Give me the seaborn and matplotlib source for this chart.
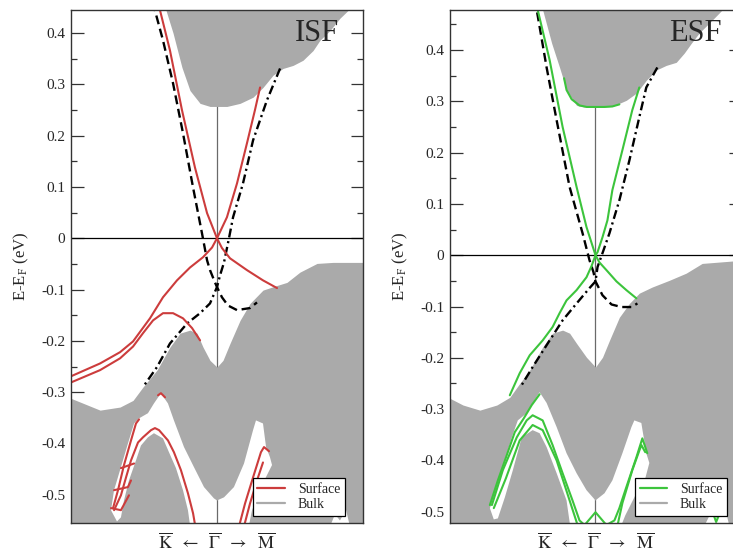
import matplotlib
matplotlib.use("Agg")
import matplotlib.pyplot as plt
from matplotlib.lines import Line2D
from matplotlib.ticker import MultipleLocator, FuncFormatter
import seaborn as sns

# ---------------------------------------------------------------------------
# Slab band structure along K <- Gamma -> M (k = 0 at Gamma, +-1 at K / M)
# Energies in eV relative to E_F.
# ---------------------------------------------------------------------------

# ---------------- ISF ----------------
# bulk projection: lower edge of the conduction continuum
isf_cond_k = [-0.36, -0.349, -0.301, -0.240, -0.185, -0.116, -0.048, 0.068, 0.158, 0.247,
              0.315, 0.384, 0.452, 0.521, 0.589, 0.658, 0.705, 0.774, 0.842, 0.897, 0.91]
isf_cond_e = [0.47, 0.444, 0.400, 0.333, 0.288, 0.263, 0.257, 0.257, 0.263, 0.275,
              0.294, 0.318, 0.331, 0.337, 0.347, 0.366, 0.386, 0.405, 0.429, 0.444, 0.47]
# bulk projection: upper edge of the valence continuum
isf_val_k = [-1.0, -0.801, -0.664, -0.575, -0.507, -0.411, -0.322, -0.253, -0.185, -0.137,
             -0.096, -0.048, 0.0, 0.041, 0.089, 0.158, 0.226, 0.315, 0.411, 0.479,
             0.568, 0.685, 0.795, 1.0]
isf_val_e = [-0.312, -0.335, -0.329, -0.316, -0.290, -0.257, -0.212, -0.185, -0.179, -0.185,
             -0.212, -0.238, -0.251, -0.238, -0.205, -0.160, -0.127, -0.101, -0.092, -0.086,
             -0.066, -0.049, -0.047, -0.047]
# projected gap inside the valence continuum
isf_gap_k = [-0.726, -0.705, -0.658, -0.610, -0.568, -0.534, -0.473, -0.432, -0.384, -0.336,
             -0.295, -0.226, -0.158, -0.089, -0.021, 0.0, 0.048, 0.116, 0.185, 0.247,
             0.267, 0.315, 0.336, 0.363, 0.377, 0.308, 0.240, 0.205, -0.185, -0.185,
             -0.199, -0.233, -0.281, -0.329, -0.370, -0.432, -0.473, -0.521, -0.555, -0.603,
             -0.637, -0.658, -0.685]
isf_gap_e = [-0.530, -0.491, -0.446, -0.400, -0.361, -0.351, -0.341, -0.322, -0.302, -0.322,
             -0.355, -0.407, -0.446, -0.485, -0.507, -0.511, -0.505, -0.485, -0.439, -0.374,
             -0.355, -0.361, -0.407, -0.427, -0.442, -0.481, -0.530, -0.579, -0.579, -0.559,
             -0.530, -0.491, -0.448, -0.417, -0.390, -0.380, -0.388, -0.404, -0.433, -0.472,
             -0.511, -0.544, -0.552]
# small pocket near M
isf_pocket_k = [0.774, 0.808, 0.842, 0.884, 0.911]
isf_pocket_e = [-0.562, -0.538, -0.550, -0.530, -0.562]

# surface states
isf_s1_k = [-0.40, -0.390, -0.322, -0.240, -0.151, -0.068, 0.0, 0.034, 0.089, 0.205, 0.315, 0.411]
isf_s1_e = [0.46, 0.444, 0.366, 0.250, 0.138, 0.049, 0.0, -0.019, -0.039, -0.062, -0.082, -0.097]
isf_s2_k = [0.295, 0.260, 0.205, 0.137, 0.068, 0.0, -0.034, -0.096, -0.185, -0.274,
            -0.370, -0.459, -0.575, -0.664, -0.801, -1.0]
isf_s2_e = [0.294, 0.250, 0.185, 0.107, 0.041, 0.0, -0.018, -0.037, -0.057, -0.082,
            -0.115, -0.156, -0.201, -0.222, -0.244, -0.269]
isf_s3_k = [-1.0, -0.801, -0.664, -0.575, -0.507, -0.438, -0.370, -0.301, -0.233, -0.171, -0.116]
isf_s3_e = [-0.281, -0.257, -0.234, -0.211, -0.185, -0.160, -0.146, -0.146, -0.156, -0.175, -0.199]
isf_s4_k = [-0.705, -0.658, -0.623, -0.589, -0.541, -0.507, -0.452, -0.425, -0.397, -0.336,
            -0.295, -0.247, -0.199, -0.164, -0.144]
isf_s4_e = [-0.530, -0.501, -0.466, -0.433, -0.398, -0.388, -0.374, -0.370, -0.374, -0.394,
            -0.417, -0.452, -0.497, -0.536, -0.569]
isf_s5_k = [-0.712, -0.678, -0.637, -0.589, -0.555, -0.534]
isf_s5_e = [-0.526, -0.491, -0.442, -0.394, -0.361, -0.353]
isf_s6_k = [-0.658, -0.568]
isf_s6_e = [-0.448, -0.439]
isf_s7_k = [-0.705, -0.610, -0.589]
isf_s7_e = [-0.491, -0.485, -0.472]
isf_s8_k = [-0.726, -0.658, -0.603]
isf_s8_e = [-0.526, -0.530, -0.501]
isf_s9_k = [-0.404, -0.384, -0.356]
isf_s9_e = [-0.306, -0.302, -0.310]
isf_s10_k = [0.144, 0.192, 0.247, 0.301, 0.322, 0.356]
isf_s10_e = [-0.569, -0.517, -0.466, -0.417, -0.407, -0.415]
isf_s11_k = [0.178, 0.226, 0.274, 0.315]
isf_s11_e = [-0.569, -0.517, -0.472, -0.437]

# bulk-like reference bands (dashed / dash-dotted)
isf_d1_k = [-0.44, -0.425, -0.370, -0.301, -0.233, -0.164, -0.103, -0.068, -0.048, -0.014,
            0.0, 0.034, 0.075, 0.137, 0.226, 0.274]
isf_d1_e = [0.46, 0.444, 0.386, 0.302, 0.205, 0.099, 0.010, -0.043, -0.062, -0.086,
            -0.095, -0.115, -0.131, -0.140, -0.136, -0.125]
isf_d2_k = [0.432, 0.342, 0.247, 0.178, 0.110, 0.082, 0.048, 0.021, 0.0, -0.048,
            -0.116, -0.205, -0.322, -0.411, -0.507]
isf_d2_e = [0.331, 0.269, 0.191, 0.107, 0.041, 0.0, -0.047, -0.072, -0.095, -0.127,
            -0.146, -0.166, -0.205, -0.251, -0.290]

# ---------------- ESF ----------------
esf_cond_k = [-0.375, -0.363, -0.301, -0.247, -0.199, -0.130, -0.08, 0.0, 0.06, 0.116,
              0.212, 0.281, 0.349, 0.418, 0.486, 0.555, 0.610, 0.658, 0.712, 0.801, 0.870, 0.885]
esf_cond_e = [0.50, 0.478, 0.413, 0.366, 0.322, 0.292, 0.289, 0.289, 0.289, 0.290,
              0.302, 0.316, 0.341, 0.361, 0.370, 0.376, 0.394, 0.413, 0.433, 0.458, 0.478, 0.50]
esf_val_k = [-1.0, -0.911, -0.795, -0.678, -0.589, -0.521, -0.452, -0.363, -0.295, -0.226,
             -0.178, -0.130, -0.062, 0.0, 0.048, 0.096, 0.164, 0.233, 0.301, 0.390,
             0.507, 0.623, 0.733, 1.0]
esf_val_e = [-0.279, -0.292, -0.302, -0.292, -0.277, -0.250, -0.224, -0.179, -0.152, -0.146,
             -0.152, -0.172, -0.199, -0.218, -0.199, -0.166, -0.121, -0.094, -0.074, -0.062,
             -0.049, -0.035, -0.016, -0.010]
esf_gap_k = [-0.726, -0.678, -0.637, -0.575, -0.534, -0.473, -0.432, -0.384, -0.336, -0.267,
             -0.199, -0.130, -0.062, 0.0, 0.062, 0.116, 0.185, 0.247, 0.267, 0.315,
             0.349, 0.370, 0.342, 0.274, 0.205, 0.164, 0.164, -0.158, -0.178, -0.199,
             -0.267, -0.336, -0.384, -0.432, -0.507, -0.568, -0.623, -0.671, -0.699]
esf_gap_e = [-0.493, -0.458, -0.413, -0.355, -0.322, -0.308, -0.288, -0.267, -0.288, -0.335,
             -0.386, -0.425, -0.458, -0.478, -0.464, -0.439, -0.386, -0.335, -0.322, -0.327,
             -0.386, -0.405, -0.435, -0.468, -0.507, -0.536, -0.56, -0.56, -0.52, -0.478,
             -0.425, -0.374, -0.347, -0.341, -0.355, -0.419, -0.472, -0.513, -0.515]
esf_pocket_k = [0.753, 0.795, 0.836, 0.890, 0.918]
esf_pocket_e = [-0.525, -0.501, -0.513, -0.493, -0.525]

esf_s1_k = [-0.41, -0.397, -0.315, -0.226, -0.130, -0.062, 0.0, 0.027, 0.075, 0.144, 0.212, 0.281]
esf_s1_e = [0.50, 0.478, 0.380, 0.250, 0.133, 0.055, 0.0, -0.014, -0.029, -0.051, -0.068, -0.084]
esf_s2_k = [0.301, 0.253, 0.185, 0.116, 0.082, 0.048, 0.014, 0.0, -0.027, -0.062,
            -0.130, -0.199, -0.247, -0.295, -0.363, -0.452, -0.521, -0.589]
esf_s2_e = [0.327, 0.283, 0.205, 0.127, 0.068, 0.035, 0.006, 0.0, -0.021, -0.043,
            -0.068, -0.088, -0.113, -0.140, -0.166, -0.195, -0.230, -0.273]
esf_s3_k = [-0.216, -0.199, -0.164, -0.110, -0.06, 0.0, 0.06, 0.116, 0.164]
esf_s3_e = [0.345, 0.322, 0.304, 0.292, 0.289, 0.289, 0.289, 0.290, 0.294]
esf_s4_k = [-0.712, -0.637, -0.541, -0.473, -0.432, -0.363, -0.295, -0.226, -0.158, -0.110,
            -0.075, 0.0, 0.075, 0.130, 0.164, 0.212, 0.281, 0.322, 0.356]
esf_s4_e = [-0.487, -0.419, -0.355, -0.322, -0.312, -0.322, -0.370, -0.425, -0.478, -0.517,
            -0.526, -0.501, -0.526, -0.517, -0.493, -0.452, -0.394, -0.357, -0.386]
esf_s5_k = [-0.699, -0.616, -0.521, -0.432, -0.363, -0.267, -0.178, -0.130, -0.09]
esf_s5_e = [-0.493, -0.435, -0.361, -0.331, -0.341, -0.400, -0.478, -0.520, -0.56]
esf_s6_k = [0.144, 0.185, 0.253, 0.315, 0.342]
esf_s6_e = [-0.536, -0.483, -0.419, -0.370, -0.384]
esf_s7_k = [-0.726, -0.671, -0.610, -0.555, -0.493, -0.438, -0.384]
esf_s7_e = [-0.487, -0.439, -0.390, -0.345, -0.318, -0.292, -0.271]
esf_s8_k = [0.801, 0.829, 0.863]
esf_s8_e = [-0.497, -0.520, -0.497]

esf_d1_k = [-0.42, -0.404, -0.336, -0.267, -0.178, -0.089, -0.041, -0.014, 0.0, 0.048,
            0.110, 0.178, 0.247, 0.288]
esf_d1_e = [0.50, 0.478, 0.366, 0.263, 0.133, 0.043, -0.010, -0.033, -0.051, -0.078,
            -0.096, -0.101, -0.101, -0.094]
esf_d2_k = [0.425, 0.349, 0.301, 0.233, 0.164, 0.096, 0.048, 0.014, 0.0, -0.041,
            -0.130, -0.226, -0.315, -0.432, -0.507]
esf_d2_e = [0.366, 0.327, 0.269, 0.185, 0.107, 0.043, 0.004, -0.023, -0.051, -0.064,
            -0.094, -0.127, -0.166, -0.218, -0.253]

BULK = "#aaaaaa"
RED = "#cc3c3c"
GREEN = "#3cc43c"

sns.set_theme(style="ticks")
plt.rcParams["font.family"] = ["Liberation Serif", "DejaVu Serif"]
plt.rcParams["mathtext.fontset"] = "stix"
plt.rcParams["axes.unicode_minus"] = False


def curve(ax, k, e, color, lw=1.5, dashes=None, z=6):
    sns.lineplot(x=k, y=e, sort=False, estimator=None, color=color, lw=lw, ax=ax, zorder=z)
    line = ax.lines[-1]
    if dashes is not None:
        line.set_dashes(dashes)
    return line


def panel(ax, title, color, cond, val, gap, pocket, surf, d1, d2, ylim, leg_x):
    ax.axvline(0, color="#6a6a6a", lw=0.9, zorder=1)
    ax.fill_between(cond[0], cond[1], 1.0, color=BULK, lw=0, zorder=2)
    ax.fill_between(val[0], -1.0, val[1], color=BULK, lw=0, zorder=2)
    hole = ax.fill(gap[0], gap[1], color="white", lw=0, zorder=3)[0]
    ax.fill(pocket[0], pocket[1], color="white", lw=0, zorder=3)
    vis = ax.axvline(0, color="#6a6a6a", lw=0.9, zorder=3.5)
    vis.set_clip_path(hole)
    ax.axhline(0, color="black", lw=0.9, zorder=4)

    curve(ax, d1[0], d1[1], "black", lw=1.7, dashes=[3.8, 2.0], z=5)
    curve(ax, d2[0], d2[1], "black", lw=1.7, dashes=[3.8, 1.6, 0.9, 1.6], z=5)
    for k, e in surf:
        curve(ax, k, e, color, lw=1.5, z=6)

    ax.set_xlim(-1, 1)
    ax.set_ylim(*ylim)
    ax.set_xticks([0])
    ax.set_xticklabels([])
    ax.yaxis.set_major_locator(MultipleLocator(0.1))
    ax.yaxis.set_minor_locator(MultipleLocator(0.05))
    ax.yaxis.set_major_formatter(FuncFormatter(lambda v, p: "0" if abs(v) < 1e-9 else f"{v:.1f}"))
    ax.tick_params(which="both", direction="in", left=True, right=True, top=True, bottom=True,
                   width=0.9, color="#333333", labelsize=11, pad=4, zorder=7)
    ax.tick_params(which="major", length=9)
    ax.tick_params(which="minor", length=4.5)
    for sp in ax.spines.values():
        sp.set_linewidth(1.0)
        sp.set_color("#333333")
        sp.set_zorder(8)

    ax.set_ylabel(r"E-E$_{\mathregular{F}}$ (eV)", fontsize=12)
    ax.yaxis.set_label_coords(-0.137, 0.5)
    ax.set_xlabel(r"$\overline{\mathrm{K}}\;\ \leftarrow\;\ \overline{\Gamma}\;\ \rightarrow\;\ \overline{\mathrm{M}}$",
                  fontsize=13, labelpad=3)
    ax.text(leg_x - 0.02, 0.94, title, transform=ax.transAxes, ha="right", va="baseline",
            fontsize=22, zorder=9)

    handles = [Line2D([], [], color=color, lw=1.6), Line2D([], [], color=BULK, lw=1.6)]
    leg = ax.legend(handles, ["Surface", "Bulk"], loc="lower right",
                    bbox_to_anchor=(leg_x, 0.014), borderaxespad=0, fontsize=10,
                    frameon=True, fancybox=False, framealpha=1, edgecolor="black",
                    handlelength=2.0, handletextpad=0.9, labelspacing=0.15,
                    borderpad=0.35)
    leg.get_frame().set_linewidth(0.9)
    leg.set_zorder(10)


fig = plt.figure(figsize=(7.33, 5.54), dpi=100)
ax1 = fig.add_axes([71 / 733, 31 / 554, 292 / 733, 513 / 554])
ax2 = fig.add_axes([450 / 733, 31 / 554, 291 / 733, 513 / 554])

panel(ax1, "ISF", RED,
      (isf_cond_k, isf_cond_e), (isf_val_k, isf_val_e), (isf_gap_k, isf_gap_e),
      (isf_pocket_k, isf_pocket_e),
      [(isf_s1_k, isf_s1_e), (isf_s2_k, isf_s2_e), (isf_s3_k, isf_s3_e), (isf_s4_k, isf_s4_e),
       (isf_s5_k, isf_s5_e), (isf_s6_k, isf_s6_e), (isf_s7_k, isf_s7_e), (isf_s8_k, isf_s8_e),
       (isf_s9_k, isf_s9_e), (isf_s10_k, isf_s10_e), (isf_s11_k, isf_s11_e)],
      (isf_d1_k, isf_d1_e), (isf_d2_k, isf_d2_e), (-0.555, 0.445), 0.938)

panel(ax2, "ESF", GREEN,
      (esf_cond_k, esf_cond_e), (esf_val_k, esf_val_e), (esf_gap_k, esf_gap_e),
      (esf_pocket_k, esf_pocket_e),
      [(esf_s1_k, esf_s1_e), (esf_s2_k, esf_s2_e), (esf_s3_k, esf_s3_e), (esf_s4_k, esf_s4_e),
       (esf_s5_k, esf_s5_e), (esf_s6_k, esf_s6_e), (esf_s7_k, esf_s7_e), (esf_s8_k, esf_s8_e)],
      (esf_d1_k, esf_d1_e), (esf_d2_k, esf_d2_e), (-0.522, 0.478), 0.952)

fig.savefig("out.png", dpi=100)
